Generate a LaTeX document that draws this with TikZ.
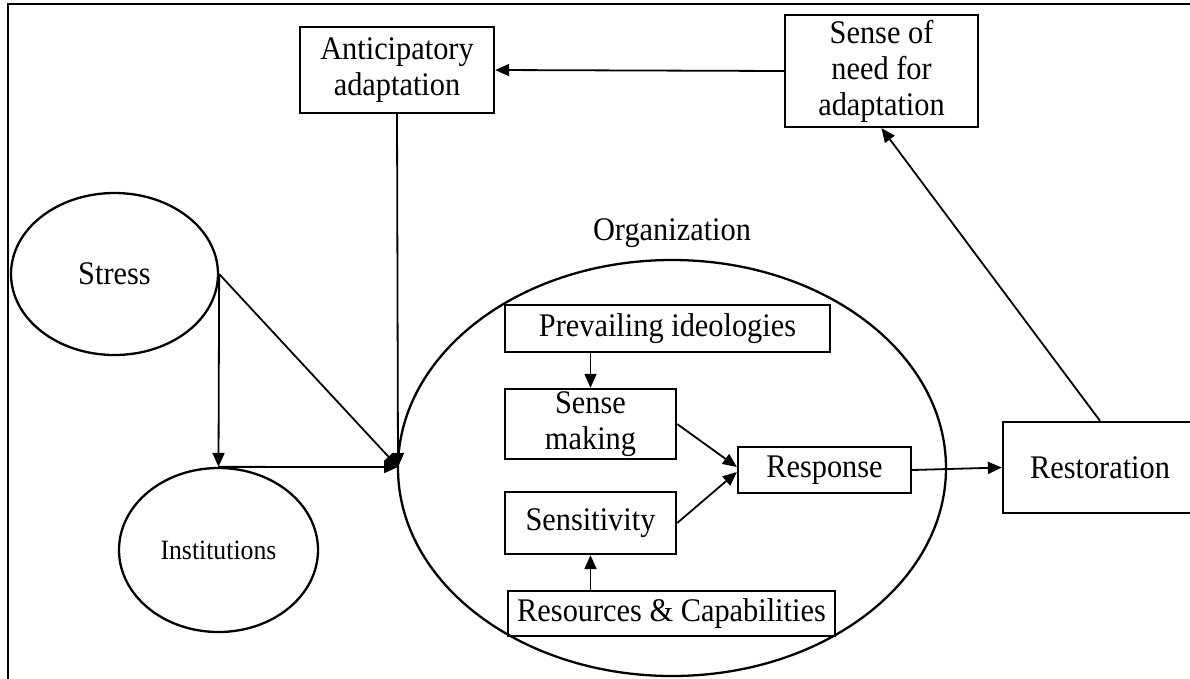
\documentclass[tikz,border=0pt]{standalone}
\usepackage{fontspec}
\setmainfont[FakeStretch=0.92]{Liberation Serif}
\usetikzlibrary{arrows.meta,shapes.geometric}
\begin{document}
\begin{tikzpicture}[x=1pt,y=-1pt,
  every node/.style={font=\fontsize{33}{36}\selectfont, align=center, inner sep=0pt},
  boxnode/.style={draw, line width=2.3pt, rectangle},
  ellnode/.style={draw, line width=2.3pt, ellipse},
  arr/.style={line width=1.8pt, -{Triangle[length=14pt,width=12pt]}},
  plain/.style={line width=2.3pt}]
\useasboundingbox (0,0) rectangle (1190,678);
% frame (right and bottom edges lie outside the picture)
\coordinate (fbl) at (8,680);
\coordinate (ftl) at (8,4);
\coordinate (ftr) at (1192,4);
\draw[plain] (fbl) -- (ftl) -- (ftr);

\node[boxnode, minimum width=194pt, minimum height=86pt] (antic) at (397,70) {Anticipatory\\adaptation};
\node[boxnode, minimum width=193pt, minimum height=112pt] (need) at (881.5,71) {Sense of\\need for\\adaptation};

\node[ellnode, minimum width=207pt, minimum height=162pt] (stress) at (114.5,274) {Stress};
\node[ellnode, minimum width=199pt, minimum height=164pt, font=\fontsize{28}{32}\selectfont] (inst) at (218.5,550) {Institutions};

\node (orglabel) at (672,233) {Organization};
\node[ellnode, minimum width=548pt, minimum height=416pt] (org) at (672,468) {};

\node[boxnode, minimum width=325pt, minimum height=47pt] (prev) at (667.5,328.5) {Prevailing ideologies};
\node[boxnode, minimum width=171pt, minimum height=70pt] (sm) at (590.5,424) {Sense\\making};
\node[boxnode, minimum width=171pt, minimum height=62pt] (sens) at (590.5,523) {Sensitivity};
\node[boxnode, minimum width=327pt, minimum height=45pt] (res) at (671.5,613.5) {Resources \& Capabilities};
\node[boxnode, minimum width=173pt, minimum height=46pt] (resp) at (824.5,470) {Response};
\node[boxnode, minimum width=194pt, minimum height=91pt] (rest) at (1100,467.5) {Restoration};

\coordinate (conv) at (398,467);

% connectors
\draw[arr] (need.west) -- (antic.east);
\draw[arr] (rest.north) -- (need.south);
\draw[arr] (antic.south) -- (conv);
\draw[arr] (stress.east) -- (conv);
\draw[arr] (stress.east) -- (inst.north);
\draw[arr] (inst.north) -- (conv);
\draw[arr] (sm.north |- prev.south) -- (sm.north);
\draw[arr] (sens.south |- res.north) -- (sens.south);
\draw[arr] (sm.east) -- ([yshift=3pt]resp.west);
\draw[arr] (sens.east) -- ([yshift=-2pt]resp.west);
\draw[arr] (resp.east) -- (rest.west);
\end{tikzpicture}
\end{document}
